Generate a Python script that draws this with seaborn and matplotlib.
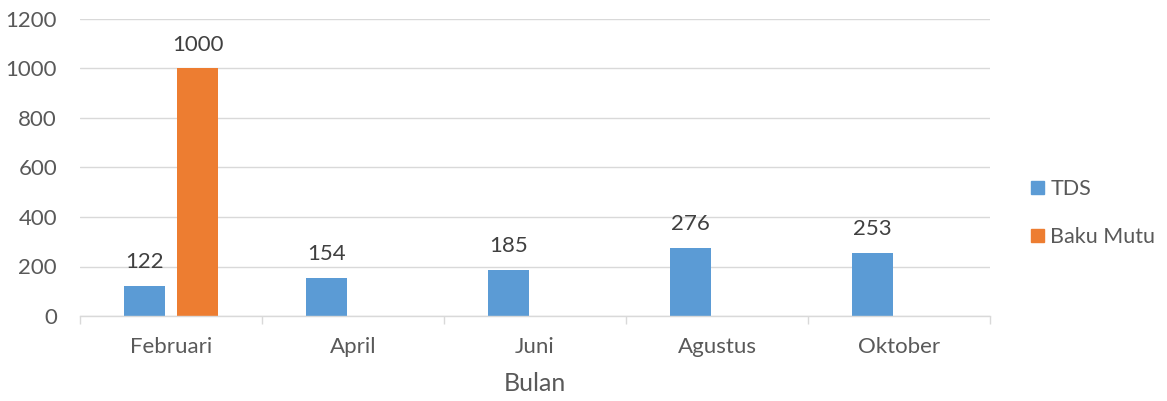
import matplotlib
matplotlib.use("Agg")
import matplotlib.pyplot as plt
import seaborn as sns
import pandas as pd
import numpy as np
from matplotlib.ticker import FixedLocator

months = ["Februari", "April", "Juni", "Agustus", "Oktober"]
tds = [122, 154, 185, 276, 253]
baku_mutu = [1000, np.nan, np.nan, np.nan, np.nan]
series = ["TDS", "Baku Mutu"]
colors = ["#5B9BD5", "#ED7D31"]

df = pd.DataFrame({
    "Bulan": months * 2,
    "value": tds + baku_mutu,
    "series": ["TDS"] * len(months) + ["Baku Mutu"] * len(months),
})

sns.set_theme(style="white")
plt.rcParams["font.family"] = ["Lato", "DejaVu Sans"]
text_color = "#595959"

fig = plt.figure(figsize=(11.67, 4.01), dpi=100)
ax = fig.add_axes([80/1167, 1 - 316/401, 910/1167, 297/401])

sns.barplot(data=df, x="Bulan", y="value", hue="series", order=months,
            hue_order=series, palette=colors, width=0.583, gap=0.228,
            dodge=True, ax=ax, legend=False, saturation=1, linewidth=0,
            err_kws={"linewidth": 0})

for cont in ax.containers:
    labels = ["" if np.isnan(v) else f"{int(v)}" for v in cont.datavalues]
    ax.bar_label(cont, labels=labels, padding=10, fontsize=16, color="#404040")

ax.set_ylim(0, 1200)
ax.set_yticks(range(0, 1201, 200))
ax.set_xlim(-0.5, len(months) - 0.5)
ax.yaxis.grid(True, color="#D9D9D9", linewidth=1)
ax.set_axisbelow(True)
for s in ["top", "right", "left"]:
    ax.spines[s].set_visible(False)
ax.spines["bottom"].set_color("#D9D9D9")
ax.spines["bottom"].set_linewidth(1)

ax.tick_params(axis="y", length=0, labelsize=16, labelcolor=text_color, pad=16.5)
ax.tick_params(axis="x", which="major", length=0, labelsize=16, labelcolor=text_color, pad=15)
ax.xaxis.set_minor_locator(FixedLocator(np.arange(-0.5, len(months), 1.0)))
ax.tick_params(axis="x", which="minor", length=6, color="#D9D9D9", width=1, bottom=True)
ax.set_ylabel("")
ax.set_xlabel("Bulan", fontsize=18, color=text_color, labelpad=11)

handles = [plt.Rectangle((0, 0), 1, 1, color=c) for c in colors]
fig.legend(handles, series, loc="center left", bbox_to_anchor=(1031/1167, 188/401),
           frameon=False, fontsize=15.5, labelcolor=text_color, handlelength=0.6,
           handleheight=0.6, handletextpad=0.3, labelspacing=1.3,
           borderpad=0, borderaxespad=0)

fig.savefig("out.png", dpi=100)
